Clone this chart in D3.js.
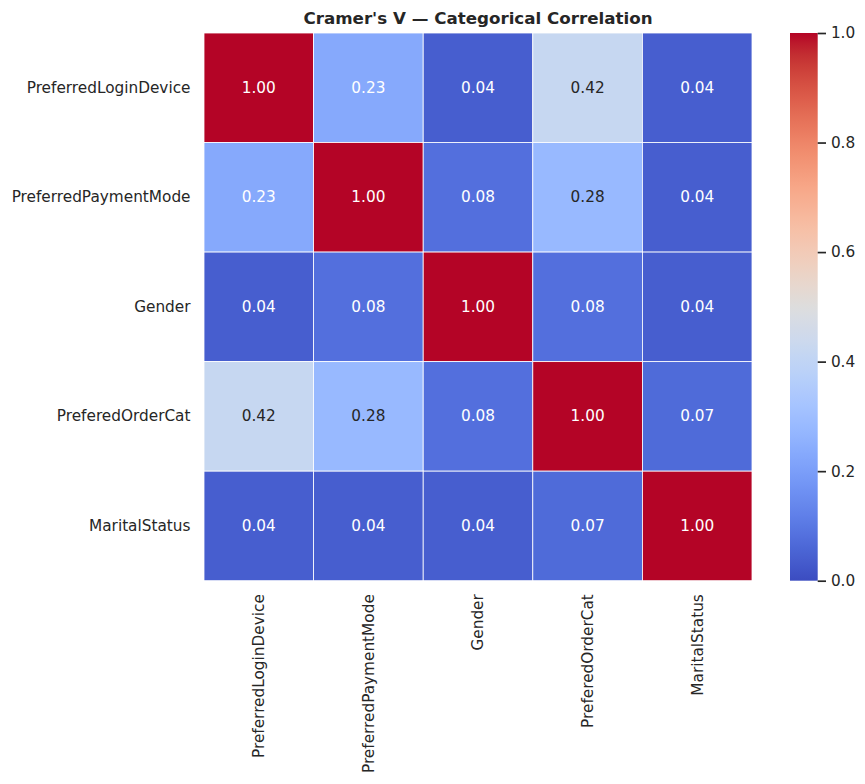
<!DOCTYPE html>
<html>
<head>
<meta charset="utf-8">
<script src="https://cdn.jsdelivr.net/npm/d3@7"></script>
<style>
  body { margin: 0; background: white; }
  text { font-family: "DejaVu Sans", sans-serif; }
</style>
</head>
<body>
<script>
  // chart data
  let labels = ["PreferredLoginDevice", "PreferredPaymentMode", "Gender", "PreferedOrderCat", "MaritalStatus"];
  let row0 = [1.00, 0.23, 0.04, 0.42, 0.04];
  let row1 = [0.23, 1.00, 0.08, 0.28, 0.04];
  let row2 = [0.04, 0.08, 1.00, 0.08, 0.04];
  let row3 = [0.42, 0.28, 0.08, 1.00, 0.07];
  let row4 = [0.04, 0.04, 0.04, 0.07, 1.00];
  let cbarTicks = [0.0, 0.2, 0.4, 0.6, 0.8, 1.0];
  let title = "Cramer's V \u2014 Categorical Correlation";

  let width = 865, height = 784;
  let hmLeft = 204, hmRight = 752, hmTop = 33, hmBottom = 580.7;
  let cbX = 790, cbW = 27.7;

  // matplotlib coolwarm (Moreland table)
  let cw = [[59,76,192],[68,90,204],[77,104,215],[87,117,225],[98,130,234],[108,142,241],
    [119,154,247],[130,165,251],[141,176,254],[152,185,255],[163,194,255],[174,201,253],
    [184,208,249],[194,213,244],[204,217,238],[213,219,230],[221,221,221],[229,216,209],
    [236,211,197],[241,204,185],[245,196,173],[247,187,160],[247,177,148],[247,166,135],
    [244,154,123],[241,141,111],[236,127,99],[229,112,88],[222,96,77],[213,80,66],
    [203,62,56],[192,40,47],[180,4,38]];
  let coolwarm = d3.scaleLinear()
    .domain(cw.map((c, i) => i / (cw.length - 1)))
    .range(cw.map(c => d3.rgb(c[0], c[1], c[2])))
    .interpolate(d3.interpolateRgb)
    .clamp(true);
  let color = v => coolwarm(v);

  function lum(c) {
    let rgb = d3.rgb(c);
    let f = x => { x = x / 255; return x <= 0.03928 ? x / 12.92 : Math.pow((x + 0.055) / 1.055, 2.4); };
    return 0.2126 * f(rgb.r) + 0.7152 * f(rgb.g) + 0.0722 * f(rgb.b);
  }

  let matrix = [row0, row1, row2, row3, row4];
  let cells = [];
  matrix.forEach((row, i) => row.forEach((v, j) => cells.push({r: labels[i], c: labels[j], v: v})));

  let x = d3.scaleBand().domain(labels).range([hmLeft, hmRight]);
  let y = d3.scaleBand().domain(labels).range([hmTop, hmBottom]);

  let svg = d3.select("body").append("svg")
    .attr("width", width).attr("height", height)
    .style("background-color", "white");

  svg.selectAll("rect.cell")
    .data(cells)
    .enter()
    .append("rect")
    .attr("class", "cell")
    .attr("x", d => x(d.c))
    .attr("y", d => y(d.r))
    .attr("width", x.bandwidth())
    .attr("height", y.bandwidth())
    .attr("fill", d => color(d.v))
    .attr("stroke", "white")
    .attr("stroke-width", 0.8);

  svg.selectAll("text.annot")
    .data(cells)
    .enter()
    .append("text")
    .attr("class", "annot")
    .attr("x", d => x(d.c) + x.bandwidth() / 2)
    .attr("y", d => y(d.r) + y.bandwidth() / 2)
    .attr("text-anchor", "middle")
    .attr("dominant-baseline", "central")
    .style("font-size", "15.3px")
    .attr("fill", d => lum(color(d.v)) > 0.408 ? "#262626" : "#ffffff")
    .text(d => d.v.toFixed(2));

  // axes (ticks hidden, only labels)
  let yAxis = svg.append("g")
    .attr("transform", "translate(" + hmLeft + ",0)")
    .call(d3.axisLeft(y).tickSize(0).tickPadding(13.5));
  let xAxis = svg.append("g")
    .attr("transform", "translate(0," + hmBottom + ")")
    .call(d3.axisBottom(x).tickSize(0).tickPadding(0));
  [yAxis, xAxis].forEach(a => {
    a.select(".domain").remove();
    a.selectAll("text").style("font-size", "15.3px").style("font-family", "DejaVu Sans").attr("fill", "#262626");
  });
  xAxis.selectAll("text")
    .attr("transform", "rotate(-90)")
    .attr("text-anchor", "end")
    .attr("dy", "0.35em")
    .attr("x", -13.5)
    .attr("y", 0);

  // colorbar
  let defs = svg.append("defs");
  let grad = defs.append("linearGradient").attr("id", "cbar")
    .attr("x1", 0).attr("y1", 1).attr("x2", 0).attr("y2", 0);
  d3.range(0, 1.0001, 0.02).forEach(t => {
    grad.append("stop").attr("offset", t).attr("stop-color", color(t));
  });
  svg.append("rect")
    .attr("x", cbX).attr("y", hmTop)
    .attr("width", cbW).attr("height", hmBottom - hmTop)
    .attr("fill", "url(#cbar)");
  let cScale = d3.scaleLinear().domain([0, 1]).range([hmBottom, hmTop]);
  let cAxis = svg.append("g")
    .attr("transform", "translate(" + (cbX + cbW) + ",0)")
    .call(d3.axisRight(cScale).tickValues(cbarTicks).tickFormat(d3.format(".1f")).tickSize(8.3).tickPadding(4.9));
  cAxis.select(".domain").remove();
  cAxis.selectAll("line").attr("stroke", "#262626").attr("stroke-width", 1.7);
  cAxis.selectAll("text").style("font-size", "15.3px").style("font-family", "DejaVu Sans").attr("fill", "#262626");

  svg.append("text")
    .attr("x", (hmLeft + hmRight) / 2)
    .attr("y", 24)
    .attr("text-anchor", "middle")
    .style("font-size", "16.7px")
    .style("font-weight", "bold")
    .attr("fill", "#262626")
    .text(title);
</script>
</body>
</html>
